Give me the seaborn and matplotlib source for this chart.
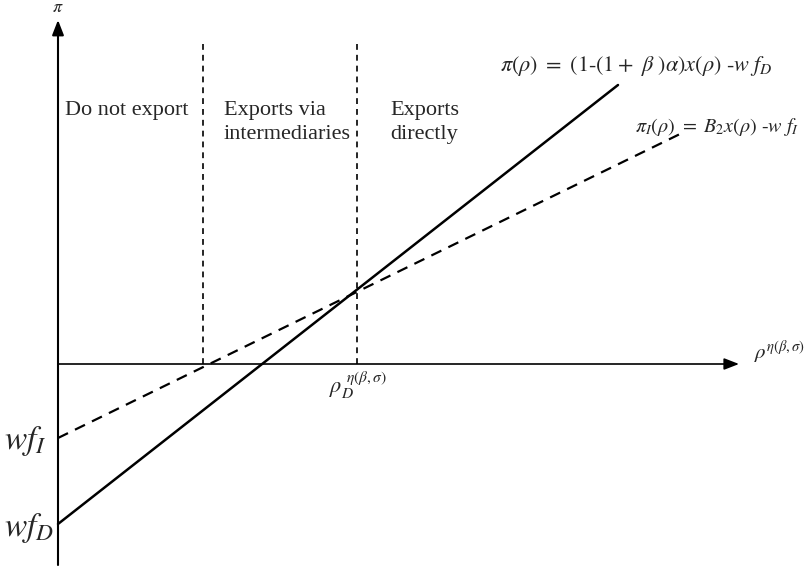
import matplotlib
matplotlib.use('Agg')
import numpy as np
import pandas as pd
import matplotlib.pyplot as plt
import seaborn as sns

sns.set_style('white')
plt.rcParams['font.family'] = ['Liberation Serif', 'DejaVu Serif']
plt.rcParams['mathtext.fontset'] = 'stix'

# profit lines (arbitrary units, origin at the axes crossing)
rho_D_line = [0, 560]
pi_D_line = [-160, 279]
rho_I_line = [0, 622]
pi_I_line = [-74, 230]

# cutoffs between regions
rho_cut_I = 145
rho_cut_D = 299

region_labels = ['Do not export', 'Exports via\nintermediaries', 'Exports\ndirectly']
region_x = [7, 166, 332]

fig = plt.figure(figsize=(8.06, 5.71), dpi=100)
ax = fig.add_axes([0, 0, 1, 1])
ax.set_xlim(-58, 748)
ax.set_ylim(-207, 364)
ax.axis('off')

df_D = pd.DataFrame({'rho': rho_D_line, 'pi': pi_D_line})
df_I = pd.DataFrame({'rho': rho_I_line, 'pi': pi_I_line})
sns.lineplot(data=df_D, x='rho', y='pi', color='black', lw=1.8, ax=ax)
sns.lineplot(data=df_I, x='rho', y='pi', color='black', lw=1.6, ax=ax,
             linestyle=(0, (5, 3.5)))

# axes with arrows
ax.annotate('', xy=(681, 0), xytext=(0, 0),
            arrowprops=dict(arrowstyle='-|>,head_length=0.9,head_width=0.35',
                            color='black', lw=1.2, shrinkA=0, shrinkB=0))
ax.annotate('', xy=(0, 344), xytext=(0, -201),
            arrowprops=dict(arrowstyle='-|>,head_length=0.9,head_width=0.35',
                            color='black', lw=1.5, shrinkA=0, shrinkB=0))

# region boundaries
for xc in [rho_cut_I, rho_cut_D]:
    ax.plot([xc, xc], [0, 324], color='black', lw=1.2, linestyle=(0, (3.5, 3)))

for lab, xr in zip(region_labels, region_x):
    ax.text(xr, 263, lab, fontsize=16, ha='left', va='top',
            linespacing=1.35)

# labels
ax.text(0, 356, r'$\pi$', fontsize=13, ha='center', va='center')
ax.text(696, 12, r'$\rho^{\eta(\beta,\sigma)}$', fontsize=15, ha='left', va='center')
ax.text(rho_cut_D - 28, -22, r'$\rho_D^{\ \eta(\beta,\sigma)}$', fontsize=16,
        ha='left', va='center')
ax.text(-54, -77, r'$wf_I$', fontsize=24, ha='left', va='center')
ax.text(-54, -164, r'$wf_D$', fontsize=24, ha='left', va='center')

ax.text(442, 298,
        r'$\pi(\rho)\ =\ (1\text{-}(1+\ \beta\ )\alpha)x(\rho)\ \text{-}w\ f_D$',
        fontsize=16, ha='left', va='center')
ax.text(577, 237, r'$\pi_I(\rho)\ =\ B_2x(\rho)\ \text{-}w\ f_I$',
        fontsize=14.5, ha='left', va='center')

fig.savefig('out.png', dpi=100, facecolor='white')
